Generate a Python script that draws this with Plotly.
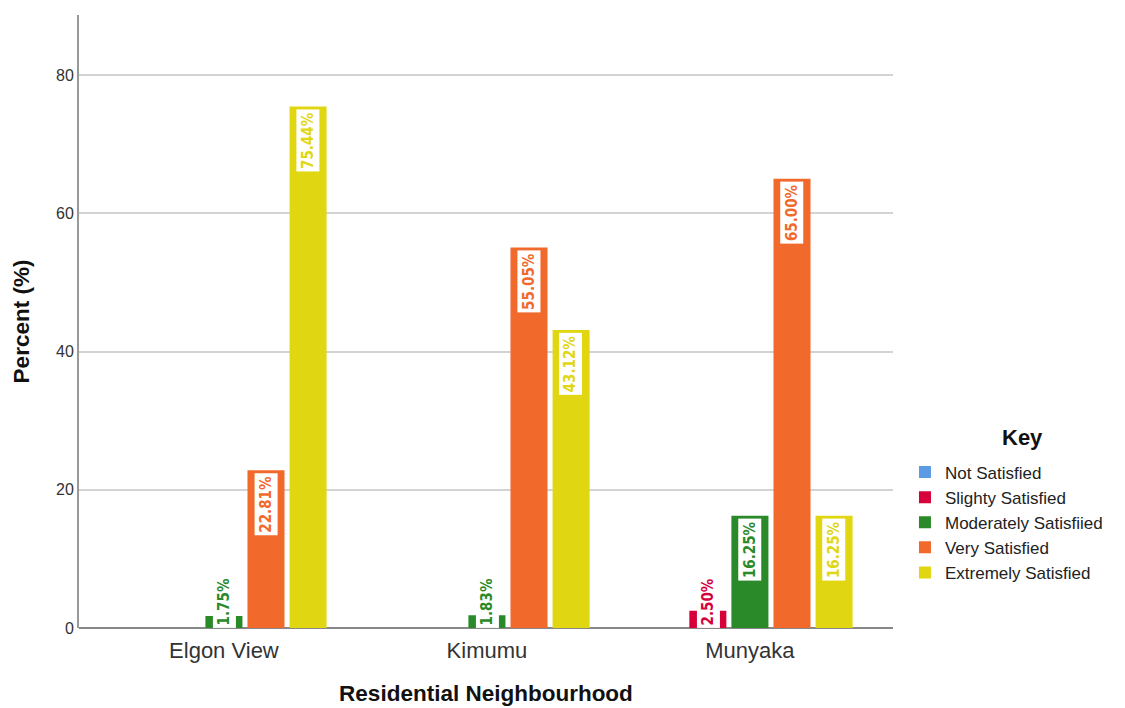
import plotly.graph_objects as go

categories = ["Elgon View", "Kimumu", "Munyaka"]
series_names = ["Not Satisfied", "Slighty Satisfied", "Moderately Satisfiied",
                "Very Satisfied", "Extremely Satisfied"]
not_satisfied = [0, 0, 0]
slightly_satisfied = [0, 0, 2.50]
moderately_satisfied = [1.75, 1.83, 16.25]
very_satisfied = [22.81, 55.05, 65.00]
extremely_satisfied = [75.44, 43.12, 16.25]
y_ticks = [0, 20, 40, 60, 80]

series_values = [not_satisfied, slightly_satisfied, moderately_satisfied,
                 very_satisfied, extremely_satisfied]
colors = ["#5B9BE3", "#D6003B", "#2A8A2A", "#F2692C", "#E1D612"]

label_font = "Liberation Sans Narrow, Arial Narrow, DejaVu Sans Condensed, sans-serif"

fig = go.Figure()
for name, vals, col in zip(series_names, series_values, colors):
    fig.add_trace(go.Bar(
        x=categories, y=vals, name=name,
        marker=dict(color=col, line=dict(width=0)),
        hoverinfo="skip",
    ))

slot_px = 42
annotations = []
for i, (vals, col) in enumerate(zip(series_values, colors)):
    for cat, v in zip(categories, vals):
        if v <= 0:
            continue
        small = v < 6
        annotations.append(dict(
            x=cat, y=0 if small else v, xref="x", yref="y",
            xshift=(i - 2) * slot_px,
            yshift=0 if small else -2,
            yanchor="bottom" if small else "top",
            xanchor="center",
            text=f"<b>{v:.2f}%</b>", textangle=-90,
            showarrow=False, bgcolor="white", borderpad=2,
            font=dict(family=label_font, size=15, color=col),
        ))

annotations.append(dict(
    x=1.159, y=0.31, xref="paper", yref="paper",
    xanchor="center", yanchor="middle", showarrow=False,
    text="<b>Key</b>", font=dict(size=22, color="#111"),
))

fig.update_layout(
    width=1117, height=700,
    margin=dict(l=71, r=232, t=7, b=80),
    paper_bgcolor="white", plot_bgcolor="white",
    barmode="group", bargap=0.2, bargroupgap=0.12,
    font=dict(family="Liberation Sans, Arial, sans-serif", color="#222"),
    annotations=annotations,
    legend=dict(
        x=1.0147, y=0.283, xanchor="left", yanchor="top",
        font=dict(size=17, color="#222"),
        itemclick=False, tracegroupgap=0,
    ),
    xaxis=dict(
        range=[-0.551, 2.544], showgrid=False, zeroline=False,
        showline=False, ticks="", automargin=False, ticklabelstandoff=7,
        tickfont=dict(size=22, color="#333"),
        title=dict(text="<b>Residential Neighbourhood</b>", standoff=23,
                   font=dict(size=22.5, color="#111")),
    ),
    yaxis=dict(
        range=[0, 88.68], tickvals=y_ticks, ticktext=[str(t) for t in y_ticks],
        showgrid=True, gridcolor="#D3D3D3", gridwidth=2,
        zeroline=True, zerolinecolor="#888", zerolinewidth=2,
        showline=True, linecolor="#999", linewidth=2, ticks="", automargin=False,
        tickfont=dict(size=16, color="#333"),
        title=dict(text="<b>Percent (%)</b>", standoff=20,
                   font=dict(size=22.5, color="#111")),
    ),
)

fig.write_html("out.html")
